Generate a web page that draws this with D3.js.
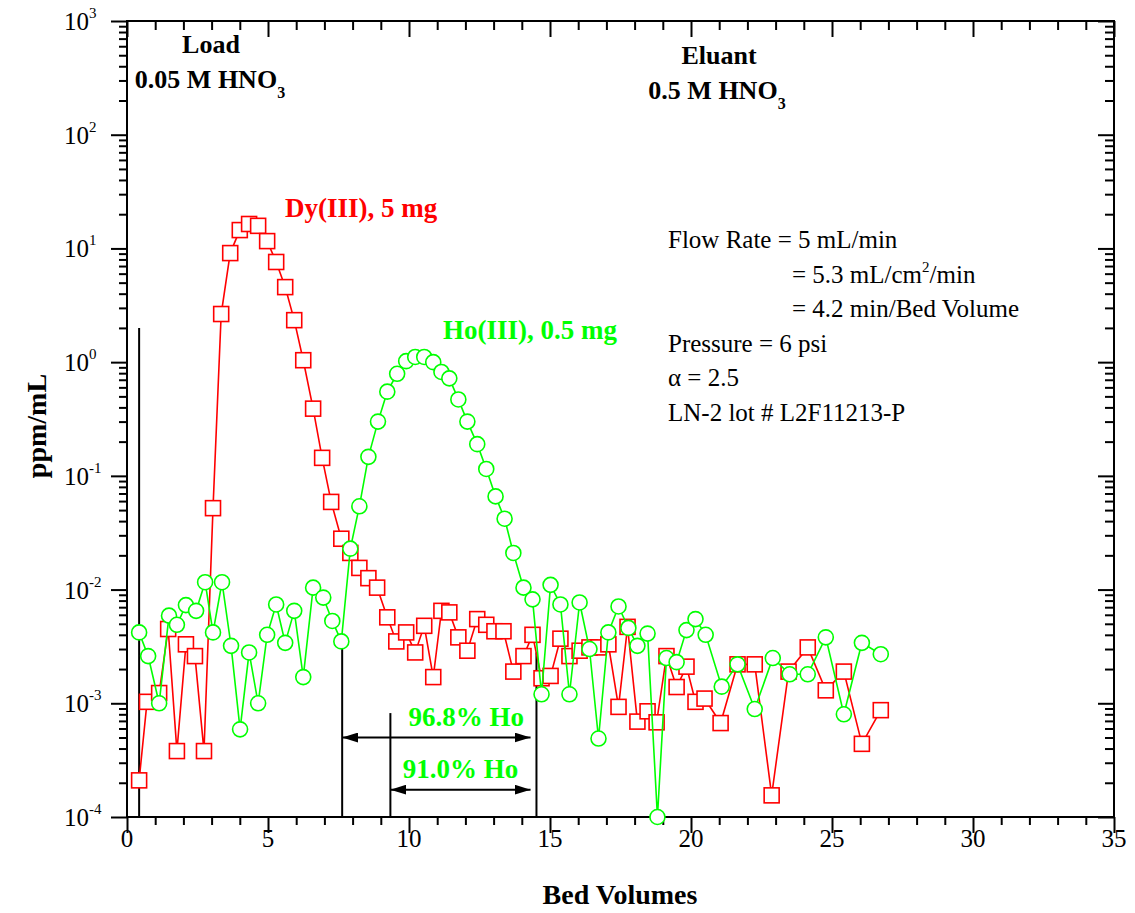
<!DOCTYPE html>
<html>
<head>
<meta charset="utf-8">
<script src="https://cdn.jsdelivr.net/npm/d3@7"></script>
<style>
  html, body { margin: 0; padding: 0; background: #fff; }
  svg { display: block; }
  text { font-family: "Liberation Serif", "Times New Roman", serif; }
</style>
</head>
<body>
<svg id="chart" width="1135" height="913"></svg>
<script>
// ---------------- data ----------------
const bvDy = [0.43,0.71,1.14,1.46,1.77,2.09,2.41,2.73,
  3.05,3.34,3.66,4.0,4.33,4.65,4.97,5.29,5.61,5.93,6.25,6.6,6.92,7.24,7.6,7.92,
  8.24,8.56,8.87,9.23,9.55,9.9,10.22,10.54,10.86,11.15,11.43,11.75,12.07,12.42,12.74,13.03,13.35,13.7,14.06,14.38,14.7,15.02,
  15.37,15.69,16.05,16.4,16.72,17.07,17.43,17.75,18.1,18.46,18.78,19.13,19.49,19.84,20.16,20.48,
  21.05,21.65,22.26,22.86,23.46,24.14,24.78,25.42,26.06,26.73];
const dyPpm = [2.1e-4,1.03e-3,1.23e-3,4.5e-3,3.8e-4,3.3e-3,2.6e-3,3.8e-4,
  0.052,2.65,9.1,14.5,16.4,15.8,11.6,7.6,4.57,2.34,1.04,0.39,0.144,0.059,0.028,0.021,
  0.0155,0.0126,0.0104,0.0057,0.0035,0.0042,0.0028,0.0048,0.0017,0.0065,0.0063,0.0038,0.0029,0.0055,0.0049,0.0043,0.0043,0.0019,0.0026,0.0040,0.00166,0.00174,
  0.0037,0.0026,0.0029,0.0031,0.0031,0.0033,0.00093,0.0047,0.00069,0.00085,0.00068,0.0026,0.00139,0.0021,0.00103,0.0011,
  0.00067,0.0022,0.0022,0.000155,0.0019,0.0031,0.0013,0.0019,0.00044,0.00087];

const bvHo = [0.43,0.75,1.14,1.49,1.77,2.09,2.45,2.77,3.05,3.37,3.69,4.01,4.33,4.65,4.97,5.29,5.61,5.93,6.25,6.6,6.96,7.28,7.6,7.92,
  8.24,8.56,8.9,9.23,9.58,9.9,10.22,10.54,10.86,11.15,11.43,11.75,12.07,12.42,12.74,13.07,13.39,13.7,14.06,14.38,14.7,15.02,
  15.37,15.69,16.05,16.4,16.72,17.07,17.43,17.78,18.1,18.46,18.81,19.13,19.49,19.84,20.16,20.52,
  21.09,21.65,22.26,22.9,23.5,24.14,24.78,25.42,26.06,26.73];
const hoPpm = [0.0042,0.0026,0.001,0.0059,0.0049,0.0073,0.0065,0.0116,0.0042,0.0116,0.0032,0.00059,0.0028,0.001,0.0040,0.0074,0.0034,0.0065,0.0017,0.0104,0.0085,0.0053,0.0035,0.0229,
  0.054,0.147,0.30,0.55,0.79,1.02,1.11,1.11,1.0,0.82,0.72,0.47,0.30,0.19,0.115,0.066,0.042,0.021,0.0104,0.0082,0.0012,0.0110,
  0.0074,0.0012,0.0077,0.0030,0.00049,0.0042,0.0071,0.0046,0.0032,0.0041,0.0001,0.0025,0.0023,0.0044,0.0055,0.0040,
  0.0014,0.0022,0.00089,0.0025,0.0018,0.0018,0.0038,0.00080,0.0034,0.0027];

const xTicks = [0,5,10,15,20,25,30,35];
const yExponents = [-4,-3,-2,-1,0,1,2,3];

// cut markers: [bed volume, top value]
const cutLines = [[0.43, 2.0], [7.63, 0.003], [9.34, 8.2e-4], [14.52, 0.0028]];
// fraction arrows: [from BV, to BV, level]
const arrows = [[7.63, 14.31, 5.0e-4], [9.34, 14.31, 1.74e-4]];
const arrowLabels = ["96.8% Ho", "91.0% Ho"];
const arrowLabelShift = [30, 0];
const infoLines = ["Flow Rate = 5 mL/min", "= 5.3 mL/cm|2|/min", "= 4.2 min/Bed Volume", "Pressure = 6 psi", "\u03b1 = 2.5", "LN-2 lot # L2F11213-P"];

// ---------------- layout ----------------
const L = 127, R = 1114, T = 21, B = 817;
const RED = "#ff0000", GREEN = "#00ff00";
const svg = d3.select("#chart");
const x = d3.scaleLinear().domain([0, 35]).range([L, R]);
const y = d3.scaleLog().domain([1e-4, 1e3]).range([B, T]);

const minorX = d3.range(0, 36, 1).filter(v => v % 5 !== 0);
const minorY = [];
yExponents.slice(0, -1).forEach(e => { for (let k = 2; k <= 9; k++) minorY.push(k * Math.pow(10, e)); });
const majorY = yExponents.map(e => Math.pow(10, e));

function styleAxis(g) {
  g.selectAll("path.domain").remove();
  g.selectAll("line").attr("stroke", "#000").attr("stroke-width", 2);
  g.selectAll("text").remove();
}
// bottom
svg.append("g").attr("transform", `translate(0,${B})`).call(d3.axisBottom(x).tickValues(xTicks).tickSize(16)).call(styleAxis);
svg.append("g").attr("transform", `translate(0,${B})`).call(d3.axisBottom(x).tickValues(minorX).tickSize(8)).call(styleAxis);
// top (inward)
svg.append("g").attr("transform", `translate(0,${T})`).call(d3.axisBottom(x).tickValues(xTicks).tickSize(16)).call(styleAxis);
svg.append("g").attr("transform", `translate(0,${T})`).call(d3.axisBottom(x).tickValues(minorX).tickSize(9)).call(styleAxis);
// left
svg.append("g").attr("transform", `translate(${L},0)`).call(d3.axisLeft(y).tickValues(majorY).tickSize(16)).call(styleAxis);
svg.append("g").attr("transform", `translate(${L},0)`).call(d3.axisLeft(y).tickValues(minorY).tickSize(8)).call(styleAxis);
// right (inward)
svg.append("g").attr("transform", `translate(${R},0)`).call(d3.axisLeft(y).tickValues(majorY).tickSize(16)).call(styleAxis);
svg.append("g").attr("transform", `translate(${R},0)`).call(d3.axisLeft(y).tickValues(minorY).tickSize(9)).call(styleAxis);

// frame
svg.append("rect").attr("x", L).attr("y", T).attr("width", R - L).attr("height", B - T)
  .attr("fill", "none").attr("stroke", "#000").attr("stroke-width", 2);

// tick labels
svg.append("g").selectAll("text").data(xTicks).join("text")
  .attr("x", d => x(d)).attr("y", B + 30).attr("text-anchor", "middle")
  .attr("font-size", 25).text(d => d);
const yl = svg.append("g").selectAll("text").data(yExponents).join("text")
  .attr("x", 64).attr("y", d => y(Math.pow(10, d)) + 9).attr("font-size", 25);
yl.append("tspan").text("10");
yl.append("tspan").attr("font-size", 15).attr("dy", -12).text(d => d);

// axis titles
svg.append("text").attr("x", 620).attr("y", 904).attr("text-anchor", "middle")
  .attr("font-size", 28).attr("font-weight", "bold").text("Bed Volumes");
svg.append("text").attr("transform", "translate(46,426) rotate(-90)").attr("text-anchor", "middle")
  .attr("font-size", 28).attr("font-weight", "bold").text("ppm/mL");

// cut lines
svg.append("g").selectAll("line").data(cutLines).join("line")
  .attr("x1", d => x(d[0])).attr("x2", d => x(d[0]))
  .attr("y1", d => y(d[1])).attr("y2", B)
  .attr("stroke", "#000").attr("stroke-width", 2);

// arrows
svg.append("defs").html(
  '<marker id="ah" viewBox="0 0 16 10" refX="16" refY="5" markerWidth="16" markerHeight="10" markerUnits="userSpaceOnUse" orient="auto-start-reverse"><path d="M0,0 L16,5 L0,10 z" fill="#000"/></marker>');
svg.append("g").selectAll("line").data(arrows).join("line")
  .attr("x1", d => x(d[0])).attr("x2", d => x(d[1]))
  .attr("y1", d => y(d[2])).attr("y2", d => y(d[2]))
  .attr("stroke", "#000").attr("stroke-width", 2)
  .attr("marker-start", "url(#ah)").attr("marker-end", "url(#ah)");
svg.append("g").selectAll("text").data(arrows).join("text")
  .attr("x", (d, i) => (x(d[0]) + x(d[1])) / 2 + arrowLabelShift[i])
  .attr("y", d => y(d[2]) - 12)
  .attr("text-anchor", "middle").attr("font-size", 27).attr("font-weight", "bold")
  .attr("fill", GREEN).text((d, i) => arrowLabels[i]);

// series
const dyData = bvDy.map((v, i) => [v, dyPpm[i]]);
const hoData = bvHo.map((v, i) => [v, hoPpm[i]]);
const line = d3.line().x(d => x(d[0])).y(d => y(d[1]));

svg.append("path").datum(dyData).attr("d", line).attr("fill", "none").attr("stroke", RED).attr("stroke-width", 1.6);
svg.append("g").selectAll("rect").data(dyData).join("rect")
  .attr("x", d => x(d[0]) - 7.5).attr("y", d => y(d[1]) - 7.5)
  .attr("width", 15).attr("height", 15)
  .attr("fill", "#fff").attr("stroke", RED).attr("stroke-width", 1.6);

svg.append("path").datum(hoData).attr("d", line).attr("fill", "none").attr("stroke", GREEN).attr("stroke-width", 1.6);
svg.append("g").selectAll("circle").data(hoData).join("circle")
  .attr("cx", d => x(d[0])).attr("cy", d => y(d[1])).attr("r", 7.5)
  .attr("fill", "#fff").attr("stroke", GREEN).attr("stroke-width", 1.6);

// annotations
function hno3(tx, ty, prefix) {
  const t = svg.append("text").attr("x", tx).attr("y", ty).attr("text-anchor", "middle")
    .attr("font-size", 26).attr("font-weight", "bold");
  t.append("tspan").text(prefix + " HNO");
  t.append("tspan").attr("font-size", 16).attr("dy", 10).text("3");
}
svg.append("text").attr("x", 211).attr("y", 53).attr("text-anchor", "middle")
  .attr("font-size", 26).attr("font-weight", "bold").text("Load");
hno3(210, 88, "0.05 M");
svg.append("text").attr("x", 719).attr("y", 64).attr("text-anchor", "middle")
  .attr("font-size", 26).attr("font-weight", "bold").text("Eluant");
hno3(717, 99, "0.5 M");

svg.append("text").attr("x", 285).attr("y", 217).attr("font-size", 27).attr("font-weight", "bold")
  .attr("fill", RED).text("Dy(III), 5 mg");
svg.append("text").attr("x", 443).attr("y", 339).attr("font-size", 27).attr("font-weight", "bold")
  .attr("fill", GREEN).text("Ho(III), 0.5 mg");

const infoX = [668, 792, 792, 668, 668, 668];
infoLines.forEach((s, i) => {
  const t = svg.append("text").attr("x", infoX[i]).attr("y", 248 + i * 34.5).attr("font-size", 25);
  const parts = s.split("|");
  t.append("tspan").text(parts[0]);
  if (parts.length > 1) {
    t.append("tspan").attr("font-size", 15).attr("dy", -11).text(parts[1]);
    t.append("tspan").attr("dy", 11).text(parts[2]);
  }
});
</script>
</body>
</html>
